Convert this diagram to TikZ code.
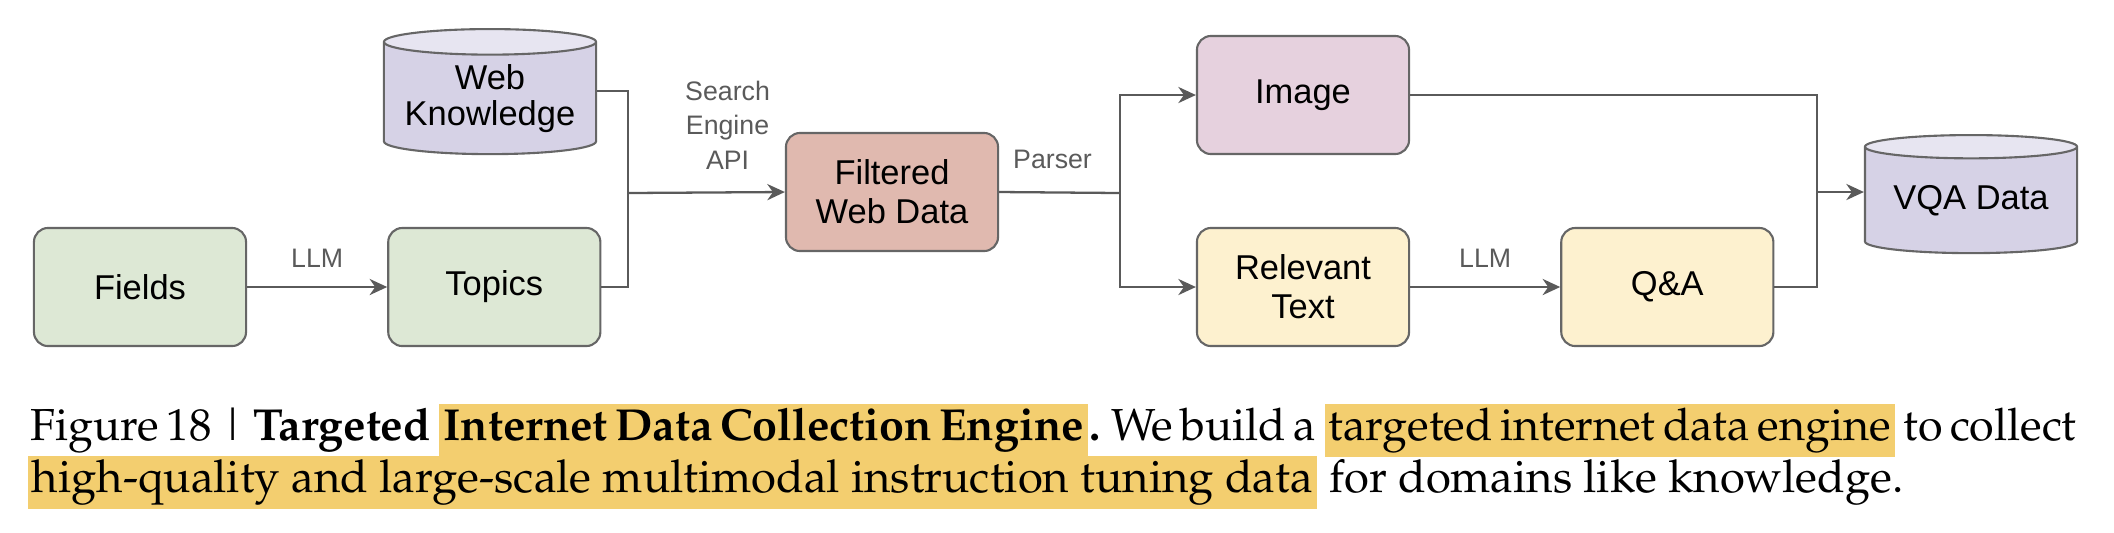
\documentclass[tikz,border=0pt]{standalone}
\usepackage[T1]{fontenc}
\usepackage{fontspec}
\newfontfamily\diagfont{Liberation Sans}
\newcommand{\capfont}{\fontencoding{T1}\fontfamily{ppl}\selectfont}
\newcommand{\tightspace}{\spaceskip=0.17em\relax}
\usetikzlibrary{arrows.meta,shapes.geometric,positioning,calc}
\definecolor{fieldgreen}{HTML}{DDE8D5}
\definecolor{filtred}{HTML}{E0B9AF}
\definecolor{imgpink}{HTML}{E6D1DE}
\definecolor{txtyellow}{HTML}{FDF1CF}
\definecolor{dbbody}{HTML}{D6D2E6}
\definecolor{dbtop}{HTML}{E7E5F1}
\definecolor{edgegray}{HTML}{5A5A5A}
\definecolor{hlyellow}{HTML}{F3CE6F}

\begin{document}
\begin{tikzpicture}
[x=0.01cm,y=-0.01cm,node distance=1.4cm,
    box/.style={draw=black!60,line width=0.6pt,rounded corners=4pt,
        minimum width=2.12cm,minimum height=1.18cm,align=center,
        font=\diagfont\fontsize{9.8}{11.1}\selectfont},
    database/.style={cylinder,shape border rotate=90,aspect=0.15,
        draw=black!60,line width=0.6pt,cylinder uses custom fill,
        cylinder body fill=dbbody,cylinder end fill=dbtop,inner sep=0pt,
        minimum width=2.12cm,minimum height=1.18cm,align=center,
        font=\diagfont\fontsize{9.8}{10.2}\selectfont},
    edge/.style={edgegray,line width=0.65pt},
    edgearr/.style={edge,-{Stealth[length=5pt,width=4.6pt,inset=1.6pt]}},
    lbl/.style={text=edgegray,align=center,
        font=\diagfont\fontsize{7.6}{9.8}\selectfont},
    capline/.style={inner sep=0pt,anchor=base west,
        font=\capfont\fontsize{12.9}{15}\selectfont},
    tightline/.style={capline,font=\capfont\fontsize{12.75}{15}\selectfont,
        execute at begin node=\tightspace},
    hl/.style={fill=hlyellow,inner xsep=1.2pt,
        text height=10.2pt,text depth=4.8pt}]
%%%%%%%%%%
\useasboundingbox (0,0) rectangle (2114,532);
%% sources
\node[box,fill=fieldgreen] (fields) at (140,287) {Fields};
\node[box,fill=fieldgreen,right=of fields] (topics) {Topics};
\node[database,anchor=north,minimum height=1.25cm] (webk) at (490,28) {Web\\Knowledge};
\node[box,fill=filtred] (filtered) at (892,192) {Filtered\\Web Data};
%% parsed
\node[box,fill=imgpink] (image) at (1303,95) {Image};
\node[box,fill=txtyellow] (relevant) at (1303,287) {Relevant\\Text};
\node[box,fill=txtyellow,right=1.5cm of relevant] (qa) {Q\&A};
\node[database,anchor=north] (vqa) at (1971,134) {VQA Data};
%%
\coordinate (jweb) at (628,91);
\coordinate (jsearch) at (628,193);
\coordinate (jparse) at (1120,193);
\coordinate (jvqa) at (1817,192);
\draw[edgearr] (fields) -- node[lbl,above=2pt] {LLM} (topics);
\draw[edge] (jweb -| webk.east) -- (jweb) -- (jsearch);
\draw[edge] (topics.east) -| (jsearch);
\draw[edgearr] (jsearch) -- node[lbl,above=3pt,xshift=6pt] {Search\\Engine\\API} (filtered.west);
\draw[edge] (filtered.east) -- node[lbl,above=3pt,xshift=-2pt] {Parser} (jparse);
\draw[edgearr] (jparse) |- (image.west);
\draw[edgearr] (jparse) |- (relevant.west);
\draw[edgearr] (relevant) -- node[lbl,above=2pt] {LLM} (qa);
\draw[edge] (image.east) -| (jvqa);
\draw[edge] (qa.east) -| (jvqa);
\draw[edgearr] (jvqa) -- (jvqa -| vqa.west);
%% caption
\node[tightline] (capa) at (30,440) {Figure 18 \textbar{} \textbf{Targeted}};
\node[tightline,hl] (capb) at ([xshift=2pt]capa.base east) {\textbf{Internet Data Collection Engine}};
\node[tightline] (capc) at (capb.base east) {\textbf{.} We build a};
\node[tightline,hl] (capd) at ([xshift=2pt]capc.base east) {targeted internet data engine};
\node[tightline] (cape) at ([xshift=2pt]capd.base east) {to collect};
\node[capline,hl] (capf) at (27,492) {high-quality and large-scale multimodal instruction tuning data};
\node[capline] (capg) at ([xshift=3pt]capf.base east) {for domains like knowledge.};
\end{tikzpicture}
\end{document}
